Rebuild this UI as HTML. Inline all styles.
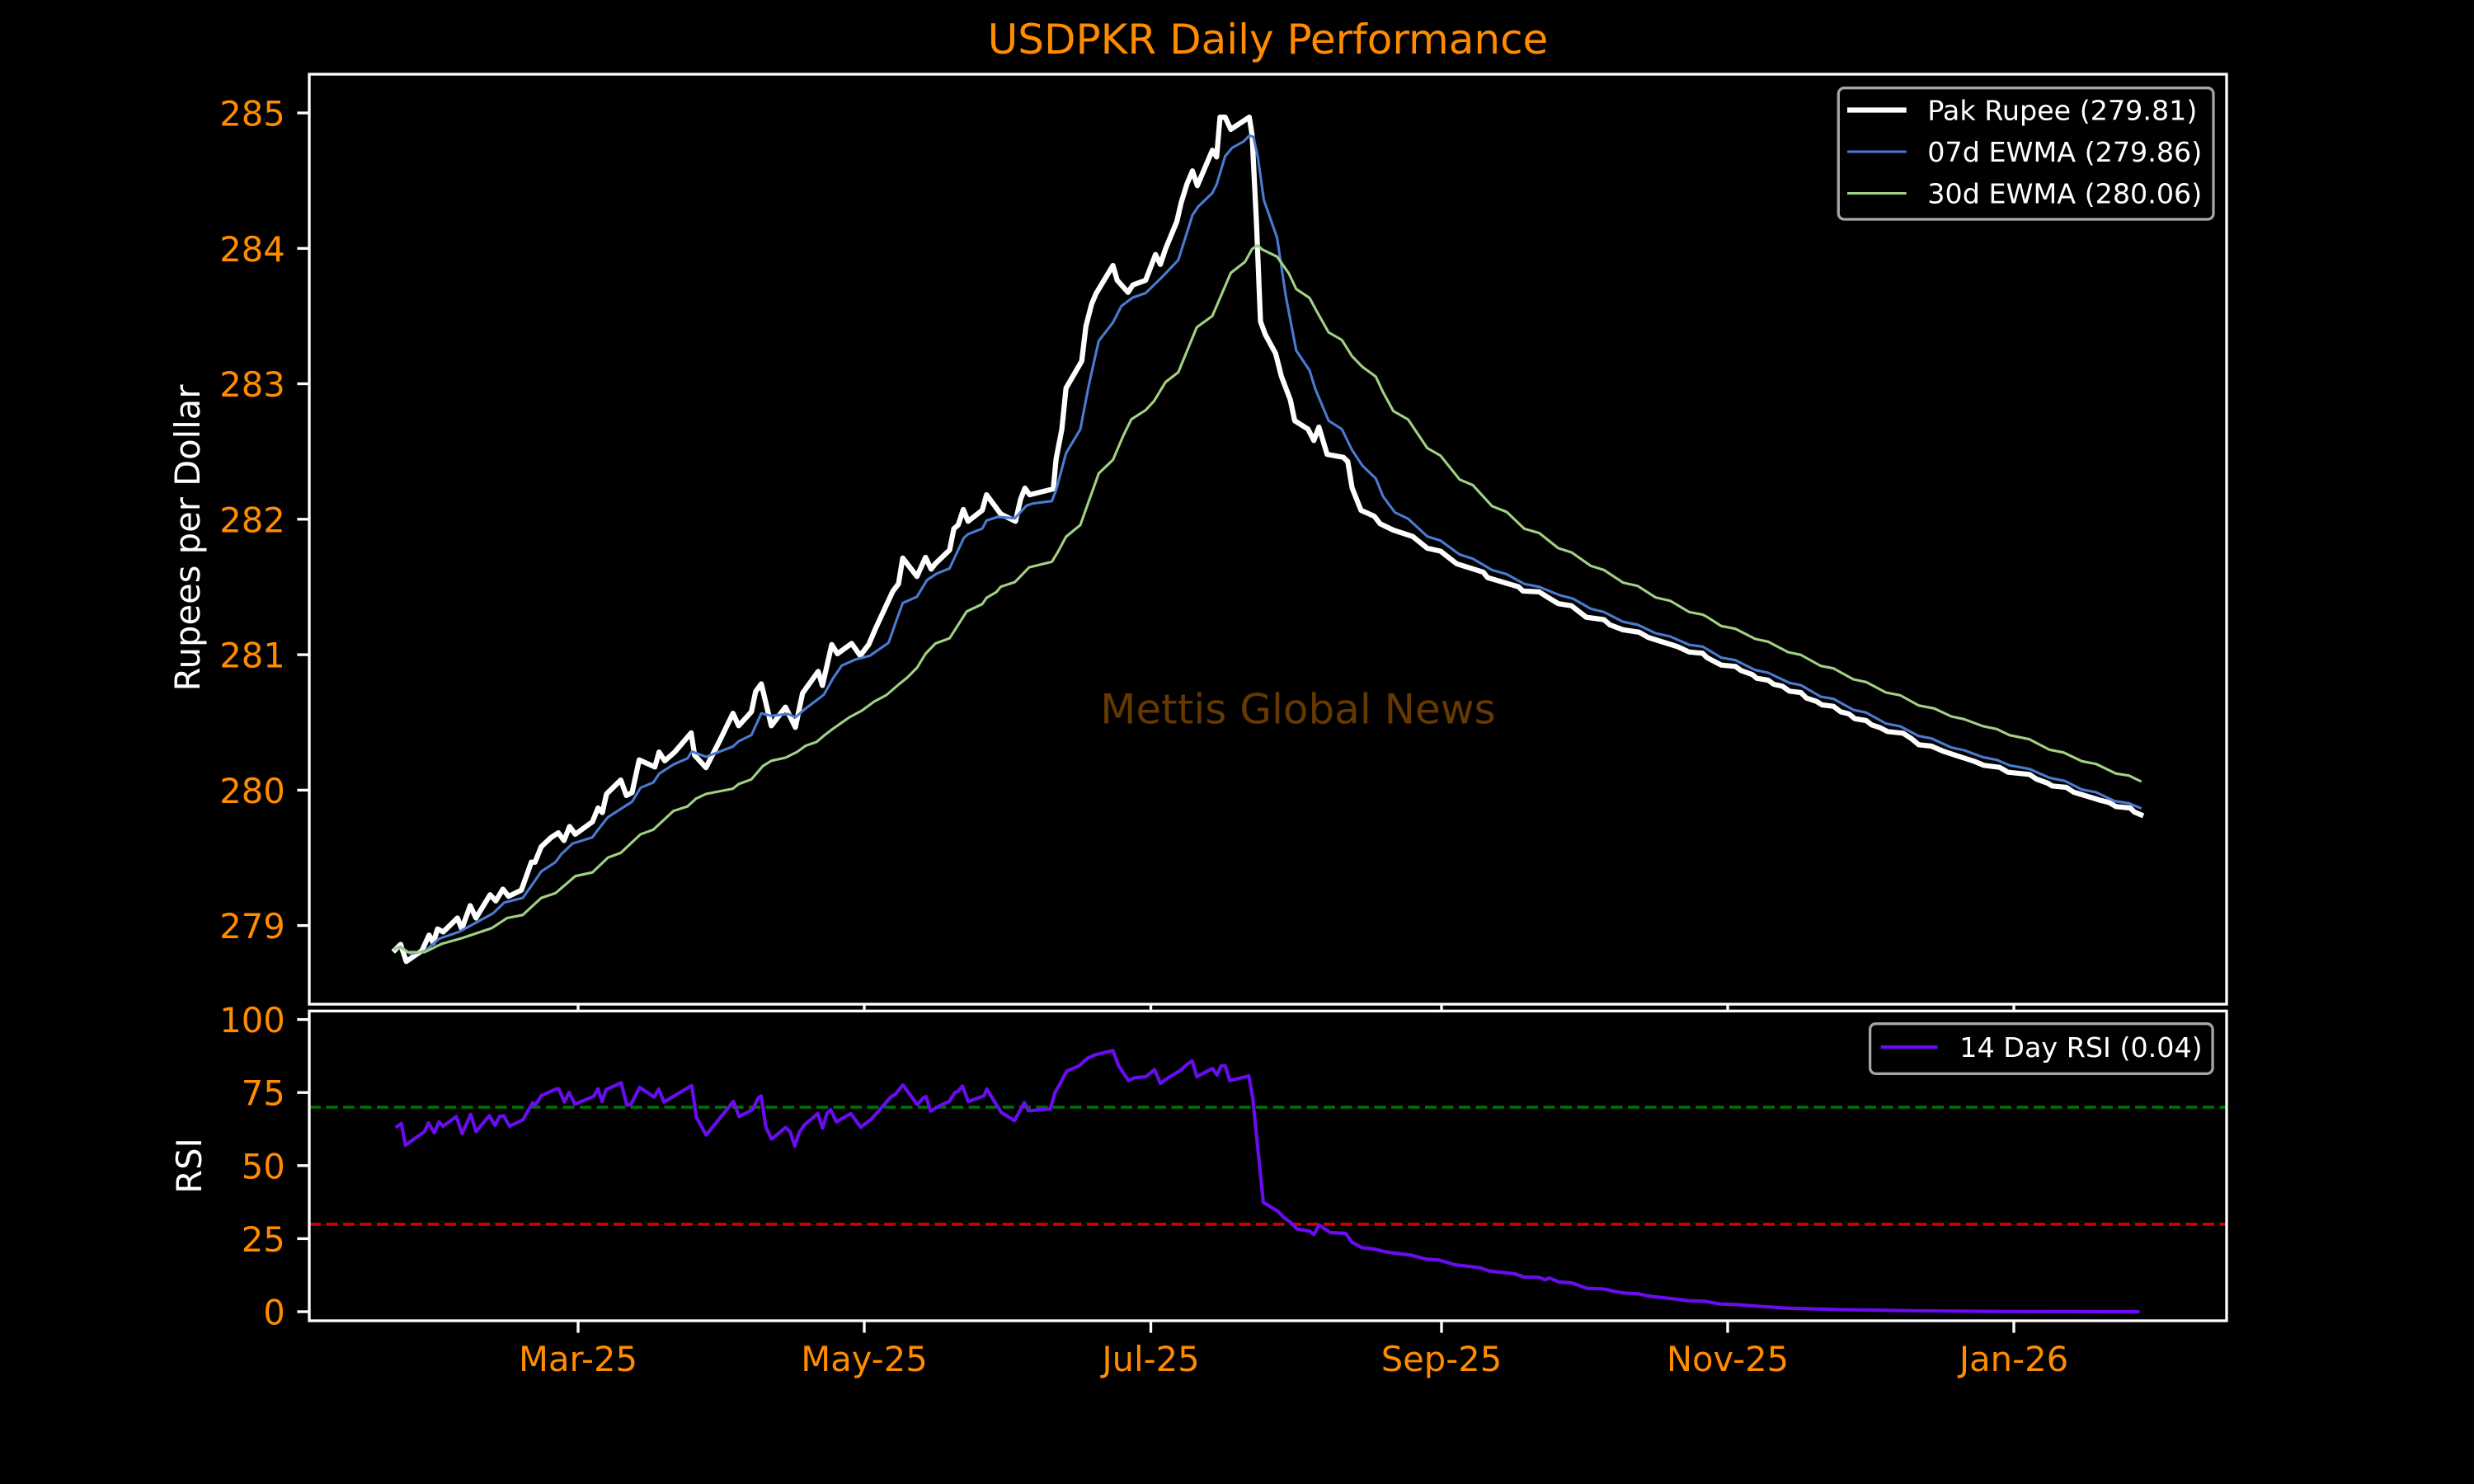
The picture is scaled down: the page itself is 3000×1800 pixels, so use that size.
<!DOCTYPE html>
<html><head><meta charset="utf-8"><style>
html,body{margin:0;padding:0;background:#000;}
svg{display:block;}
text{font-family:"DejaVu Sans","Liberation Sans",sans-serif;}
</style></head><body>
<svg xmlns="http://www.w3.org/2000/svg" width="3000" height="1800" viewBox="0 0 3000 1800">
<rect x="0" y="0" width="3000" height="1800" fill="#000"/>

<!-- Title -->
<text x="1537.5" y="65" font-size="50" fill="#ff8c00" text-anchor="middle">USDPKR Daily Performance</text>

<!-- Watermark -->
<text x="1574" y="877.6" font-size="50" fill="rgb(102,56,2)" text-anchor="middle">Mettis Global News</text>

<!-- Main axis series -->
<g fill="none" stroke-linejoin="round" stroke-linecap="square">
<polyline stroke="#ffffff" stroke-width="6.25" points="478.9,1152.3 485.8,1145.5 492.7,1166.2 511.7,1153.0 520.3,1134.2 525.4,1143.6 530.6,1126.7 537.5,1130.4 554.7,1113.5 559.9,1126.7 570.2,1098.5 577.1,1113.5 594.3,1085.3 601.2,1092.8 609.8,1078.5 616.7,1087.2 632.2,1079.7 644.3,1045.8 648.7,1045.8 656.3,1027.0 668.4,1015.7 677.0,1010.1 683.9,1019.5 690.7,1002.5 697.6,1011.9 718.3,996.9 725.2,980.0 730.4,985.6 735.5,963.0 752.7,946.1 759.6,964.9 766.5,961.2 775.1,921.7 794.1,930.3 799.2,912.2 806.1,922.8 818.2,912.2 838.1,888.9 842.3,916.0 856.1,931.1 873.3,897.2 888.8,865.2 895.7,880.3 911.2,863.3 916.3,838.9 923.2,829.5 935.3,880.3 952.5,857.7 964.5,882.2 973.2,840.8 992.1,814.4 997.3,831.4 1008.6,781.8 1015.5,793.0 1032.7,780.5 1043.1,795.2 1053.4,781.8 1062.0,761.7 1082.7,717.1 1089.5,708.2 1094.7,676.9 1111.9,699.2 1122.3,676.0 1129.1,690.3 1134.3,683.6 1151.5,667.1 1156.7,641.2 1161.9,636.8 1168.1,618.0 1173.9,632.3 1191.1,618.9 1196.3,600.1 1213.5,623.4 1231.4,632.3 1237.6,605.5 1242.8,592.1 1248.7,600.1 1277.2,593.0 1280.7,556.4 1287.6,520.7 1292.7,470.7 1311.7,438.1 1316.8,395.7 1323.7,368.9 1328.9,356.4 1349.6,322.0 1354.7,339.9 1367.8,354.6 1373.7,345.7 1389.2,339.9 1401.2,308.7 1407.1,320.7 1413.3,302.0 1427.1,268.5 1432.2,246.2 1439.1,223.8 1446.0,207.3 1451.9,225.2 1470.1,182.3 1475.3,190.4 1479.4,142.1 1485.6,142.1 1492.5,156.9 1514.9,142.1 1518.3,163.6 1523.6,270 1528.5,390 1534.3,405.7 1546.8,428.7 1553.9,456.7 1564.6,484.8 1570.0,510.3 1586.1,520.5 1593.2,534.3 1599.3,518.0 1609.3,551.1 1628.9,554.7 1634.3,559.8 1639.6,591.9 1650.4,619.0 1666.4,626.1 1673.6,635.3 1689.6,643.0 1712.9,650.6 1730.7,664.9 1746.8,668.5 1766.4,683.8 1798.6,694.0 1803.9,700.6 1841.4,711.8 1846.7,716.9 1866.4,717.9 1877.1,724.6 1889.6,732.2 1905.7,734.8 1923.5,748.6 1945.0,751.6 1952.1,757.8 1968.2,763.9 1987.8,766.9 1998.5,773.1 2034.2,784.3 2048.5,790.9 2064.6,792.4 2069.9,797.6 2087.2,806.7 2104.4,808.3 2111.3,813.3 2125.1,818.3 2130.3,822.7 2144,825 2150.9,830 2161.3,832.3 2169.9,838.3 2183.7,840 2190.5,846.7 2202.6,850.7 2209.5,855 2223.3,856.7 2231.9,863.3 2242.2,866 2249.1,871.7 2262.9,874 2269.8,879.3 2280.1,882.7 2288.7,887.3 2307.6,889.3 2318,896 2326.6,903.3 2342.1,905 2355.9,911 2373.1,916.7 2393.7,923.3 2405.8,928.3 2424.7,930.7 2435.1,936.7 2460.9,939.3 2469.5,945 2483.3,950 2488.5,953.3 2505.7,955 2514.3,960.7 2547,970.7 2557.3,973.3 2565.9,978.3 2583.2,980 2588.3,985 2596.2,988.3"/>
<polyline stroke="#4a7bd0" stroke-width="3.1" points="478.9,1151.1 485.8,1148.5 497.9,1156.8 515.1,1153.8 532.3,1138.7 556.4,1130.4 573.7,1121 597.8,1107.9 611.5,1094.7 633.9,1089.1 646,1072.1 656.3,1057.1 673.5,1045.8 680.4,1036.4 694.2,1023.2 718.3,1015.7 725.2,1006.3 737.2,991.2 766.5,972.4 776.8,955.5 792.3,949.1 799.2,938.6 816.5,927.3 833.7,919.8 838.8,911.5 856.1,917.9 888.8,905.5 895.7,899.1 911.2,891.6 923.2,865.2 935.3,868.2 955.9,866 964.5,870.1 976.6,859.6 999,842.6 1010,823 1020.7,807.3 1037.9,799.7 1055.1,795.2 1077.5,779.6 1086.1,755.0 1094.7,731.4 1111.9,723.8 1124,703.7 1136,695.7 1151.5,689.4 1168.8,652.4 1173.9,647.9 1191.1,641.2 1196.3,631.4 1210.1,626.9 1230.7,628.7 1244.5,613.5 1251.4,610.9 1275.5,607.7 1280.7,594.3 1292.7,549.7 1310,520.7 1320.3,467.1 1332.3,413.6 1349.6,391.2 1359.9,371.1 1373.7,360.9 1389.2,355.5 1409.8,335.4 1428.8,315.3 1446,260.9 1452.9,250.6 1470.1,234.1 1475.3,223.8 1485.6,189.5 1494.2,179.2 1508,171.6 1514.9,164.5 1520,166 1525.4,191.4 1532.5,242.4 1548.6,288.4 1559.3,359.8 1571.8,425.1 1587.9,449.1 1595,472 1611.1,510.3 1627.1,520.5 1639.6,546 1652.1,564.9 1668.2,580.2 1677.1,602.1 1691.4,621.5 1707.5,629.2 1730.7,650.6 1746.8,655.7 1770,672.6 1786,677.7 1809.3,691.4 1827.1,696.5 1848.5,708.3 1866.4,711.8 1891.4,722 1907.5,726.1 1928.9,738.4 1945,742.4 1968.2,754.2 1986,757.8 2007.4,768 2025.3,772 2048.5,782.2 2064.6,784.3 2070,787.3 2087.2,797.7 2104.4,800.7 2128.5,812.7 2144,816 2169.9,828.3 2183.7,831 2207.8,845 2223.3,847.7 2247.4,861 2262.9,864.3 2287,877.7 2304.2,881 2326.6,892.7 2342.1,895.7 2366.2,906.7 2381.7,910 2404.1,918.3 2421.3,921.7 2436.8,928.3 2460.9,932.7 2485,943.3 2504,947.3 2524.6,957.7 2541.8,961 2564.2,971.7 2581.4,974.3 2595.2,980"/>
<polyline stroke="#a3d184" stroke-width="3.1" points="478.9,1151.1 485.8,1149.3 494.4,1154.9 515.1,1154.9 535.8,1144.7 559.9,1138 596,1125.9 615,1113.5 633.9,1109.8 656.3,1089.1 673.5,1083.4 697.6,1062.7 718.3,1058.2 737.2,1040.2 752.7,1034.5 776.8,1011.9 792.3,1006.3 816.5,983.7 833.7,978.1 844,968.7 856.1,963 888.8,956.6 895.7,951 911.2,945.3 925,929.2 935.3,922.8 952.5,919 966.3,912.2 976.6,904.7 990.4,899.8 1000,891.6 1010,884 1030,870 1045,862 1060,851 1075,843 1090,830 1100,822 1111.9,810 1122.3,793 1134.3,780.5 1151.5,774.2 1172.2,741.7 1191.1,732.7 1196.3,725.1 1208.4,718 1213.5,711.7 1230.7,706 1248,688.1 1275.5,681.4 1282.4,670.2 1292.7,651 1310,636.8 1332.3,574.3 1349.6,557.7 1361.6,529.6 1371.9,508.6 1389.2,497.5 1399.5,486.3 1413.3,463.5 1428.8,451.5 1451.2,397 1470.1,383.2 1492.5,331 1509.7,317.6 1518.3,302 1525.2,297.5 1530.7,302.7 1548.6,311.3 1562.9,331.7 1571.8,350.6 1587.9,361.3 1596.8,377.7 1611.1,403.2 1627.1,412.3 1639.6,432.2 1652.1,445 1668.2,456.7 1677.1,475.6 1689.6,498.6 1707.5,508.8 1730.7,543.5 1746.8,552.7 1770,581.7 1786,588.4 1809.3,613.9 1827.1,621 1848.5,641.4 1866.4,646.5 1889.6,664.9 1905.7,670 1928.9,686.3 1945,691.4 1968.2,706.7 1986,710.8 2007.4,724.6 2025.3,728.7 2048.5,742.4 2064.6,745.5 2070,748.3 2087.2,759.3 2104.4,762.7 2128.5,775 2144,778.3 2168.2,791 2183.7,794.3 2207.8,807.7 2223.3,810.7 2247.4,824 2262.9,827.3 2287,840 2304.2,843.3 2326.6,855.7 2345.5,859.3 2366.2,869 2381.7,872.3 2404.1,880.7 2421.3,884.3 2436.8,891.7 2460.9,896.7 2485,909.3 2502.2,912.7 2524.6,923.3 2541.8,926.7 2565.9,938.3 2581.4,940.7 2595.2,947.3"/>
</g>

<!-- Main axes frame -->
<rect x="375" y="90" width="2325" height="1128" fill="none" stroke="#ffffff" stroke-width="3.33"/>
<!-- main y ticks -->
<g stroke="#ffffff" stroke-width="3.33">
<line x1="360.4" y1="137" x2="375" y2="137"/>
<line x1="360.4" y1="301.3" x2="375" y2="301.3"/>
<line x1="360.4" y1="465.5" x2="375" y2="465.5"/>
<line x1="360.4" y1="629.8" x2="375" y2="629.8"/>
<line x1="360.4" y1="794.1" x2="375" y2="794.1"/>
<line x1="360.4" y1="958.4" x2="375" y2="958.4"/>
<line x1="360.4" y1="1122.6" x2="375" y2="1122.6"/>
<!-- main x ticks (partially visible) -->
<line x1="701" y1="1218" x2="701" y2="1226"/>
<line x1="1048" y1="1218" x2="1048" y2="1226"/>
<line x1="1395.5" y1="1218" x2="1395.5" y2="1226"/>
<line x1="1748" y1="1218" x2="1748" y2="1226"/>
<line x1="2095" y1="1218" x2="2095" y2="1226"/>
<line x1="2442" y1="1218" x2="2442" y2="1226"/>
</g>
<g font-size="41.67" fill="#ff8c00" text-anchor="end">
<text x="345.8" y="152.5">285</text>
<text x="345.8" y="316.8">284</text>
<text x="345.8" y="481">283</text>
<text x="345.8" y="645.3">282</text>
<text x="345.8" y="809.6">281</text>
<text x="345.8" y="973.9">280</text>
<text x="345.8" y="1138.1">279</text>
</g>
<text transform="translate(242,652.5) rotate(-90)" font-size="41.67" fill="#ffffff" text-anchor="middle">Rupees per Dollar</text>

<!-- Main legend -->
<rect x="2229.3" y="106.7" width="454.7" height="159.3" rx="7" ry="7" fill="#000" stroke="#a6a6a6" stroke-width="3.3"/>
<line x1="2240" y1="133.5" x2="2311.7" y2="133.5" stroke="#ffffff" stroke-width="6.25"/>
<line x1="2240" y1="184" x2="2311.7" y2="184" stroke="#4a7bd0" stroke-width="3.1"/>
<line x1="2240" y1="234.5" x2="2311.7" y2="234.5" stroke="#a3d184" stroke-width="3.1"/>
<g font-size="33.33" fill="#ffffff">
<text x="2337.3" y="145.5">Pak Rupee (279.81)</text>
<text x="2337.3" y="196">07d EWMA (279.86)</text>
<text x="2337.3" y="246.5">30d EWMA (280.06)</text>
</g>

<!-- RSI axes -->
<rect x="375" y="1226.3" width="2325" height="375.7" fill="#000"/>
<line x1="375" y1="1342.9" x2="2700" y2="1342.9" stroke="#007000" stroke-width="3.6" stroke-dasharray="14,6.5"/>
<line x1="375" y1="1484.9" x2="2700" y2="1484.9" stroke="#d40000" stroke-width="3.6" stroke-dasharray="14,6.5"/>
<polyline fill="none" stroke="#6a0cf0" stroke-width="4.17" stroke-linejoin="round" points="479.6,1367.7 486.7,1362.7 491.6,1389 514.7,1372.7 519.6,1362 526.6,1374 532.3,1360.7 537.2,1366 553.3,1354.3 560.3,1375 570.8,1351.7 577.2,1372.7 593.3,1353.3 600.3,1365 605.9,1354 610.8,1353.3 617.8,1366 634,1358.3 645.9,1337.7 649.4,1340 656.4,1329 674,1321 677.5,1320.7 684.5,1336.7 690.1,1325 697.1,1339.3 719.6,1330 725.2,1320.7 730.1,1336 735,1321.7 753.2,1313.3 760.2,1340.7 765.2,1339.3 775.7,1319 793.2,1330.7 798.8,1321 805.1,1336.7 838.8,1316.7 844.4,1355 856.3,1376.7 889.3,1336 896.3,1354.3 912.5,1346 919.5,1331.7 923,1329.3 928.6,1366.7 935.6,1381.7 952.5,1367.7 958.1,1372.7 963.7,1390 969.3,1373.3 975.6,1364.3 991.7,1350.7 997.4,1368.3 1003,1350 1007.2,1346 1014.2,1360.7 1031.7,1350.7 1043.6,1367.3 1056.3,1357.7 1080.8,1330 1085.7,1327.3 1094.9,1316 1112.4,1340 1119.4,1331.7 1122.9,1330 1128.5,1347.7 1140.5,1340.7 1151,1336 1158,1325 1161.5,1324 1167.1,1317.3 1174.1,1336 1193.1,1329.3 1196.6,1321 1214.1,1349.3 1230.2,1359.3 1242.2,1337.3 1247.1,1347.3 1273.7,1345 1279.4,1325 1285.7,1314 1293.4,1299.3 1308.8,1292.7 1314.4,1287.3 1319.3,1283.3 1328.4,1279.3 1349.5,1274.3 1356.5,1292.7 1368.4,1310.7 1375.5,1307.3 1389.5,1306 1400,1297.3 1407,1314 1417.6,1306.7 1431.6,1298.3 1438.6,1291.7 1445.6,1286.7 1451.2,1306 1470.2,1296 1475.8,1304 1480.7,1292.7 1485.6,1292.7 1491.2,1310.7 1512.2,1305.7 1514.4,1305 1519.3,1333.3 1526.3,1403.3 1531.9,1458.3 1549.7,1469.3 1557.4,1477.3 1565,1482.7 1572.7,1490.7 1588,1493.3 1593.4,1497.3 1599.5,1486 1613.3,1495 1631.6,1496 1639.3,1506.7 1651.5,1513.3 1666.8,1515 1679.8,1518.3 1691.3,1520 1710.5,1522.3 1729.6,1527.3 1744.9,1528.3 1764,1534 1794.6,1537.7 1806.1,1541.7 1836.7,1545 1848.2,1549 1865.8,1549.3 1873.5,1552.3 1878.8,1550 1890.3,1555 1905.6,1556 1924.7,1562.7 1943.9,1563.3 1959.2,1566.7 1968.4,1568.3 1986,1569.3 2001.3,1572.3 2031.9,1575.7 2047.2,1577.7 2066.3,1578.3 2085.5,1581.7 2104.6,1582.3 2131.4,1584.3 2165.8,1586.7 2227,1588.3 2303.6,1589.7 2418.4,1590.7 2594.4,1591"/>
<rect x="375" y="1226.3" width="2325" height="375.7" fill="none" stroke="#ffffff" stroke-width="3.33"/>
<g stroke="#ffffff" stroke-width="3.33">
<line x1="360.4" y1="1236.6" x2="375" y2="1236.6"/>
<line x1="360.4" y1="1325.2" x2="375" y2="1325.2"/>
<line x1="360.4" y1="1413.8" x2="375" y2="1413.8"/>
<line x1="360.4" y1="1502.4" x2="375" y2="1502.4"/>
<line x1="360.4" y1="1591" x2="375" y2="1591"/>
<line x1="701" y1="1602" x2="701" y2="1616.6"/>
<line x1="1048" y1="1602" x2="1048" y2="1616.6"/>
<line x1="1395.5" y1="1602" x2="1395.5" y2="1616.6"/>
<line x1="1748" y1="1602" x2="1748" y2="1616.6"/>
<line x1="2095" y1="1602" x2="2095" y2="1616.6"/>
<line x1="2442" y1="1602" x2="2442" y2="1616.6"/>
</g>
<g font-size="41.67" fill="#ff8c00" text-anchor="end">
<text x="345.8" y="1252.1">100</text>
<text x="345.8" y="1340.7">75</text>
<text x="345.8" y="1429.3">50</text>
<text x="345.8" y="1517.9">25</text>
<text x="345.8" y="1606.5">0</text>
</g>
<g font-size="41.67" fill="#ff8c00" text-anchor="middle">
<text x="701" y="1663">Mar-25</text>
<text x="1048" y="1663">May-25</text>
<text x="1395.5" y="1663">Jul-25</text>
<text x="1748" y="1663">Sep-25</text>
<text x="2095" y="1663">Nov-25</text>
<text x="2442" y="1663">Jan-26</text>
</g>
<text transform="translate(244,1414) rotate(-90)" font-size="41.67" fill="#ffffff" text-anchor="middle">RSI</text>

<!-- RSI legend -->
<rect x="2267.6" y="1241.7" width="415.5" height="60.6" rx="7" ry="7" fill="#000" stroke="#a6a6a6" stroke-width="3.3"/>
<line x1="2280.6" y1="1270" x2="2349.5" y2="1270" stroke="#6a0cf0" stroke-width="4.17"/>
<text x="2376.3" y="1282" font-size="33.33" fill="#ffffff">14 Day RSI (0.04)</text>
</svg>
</body></html>
